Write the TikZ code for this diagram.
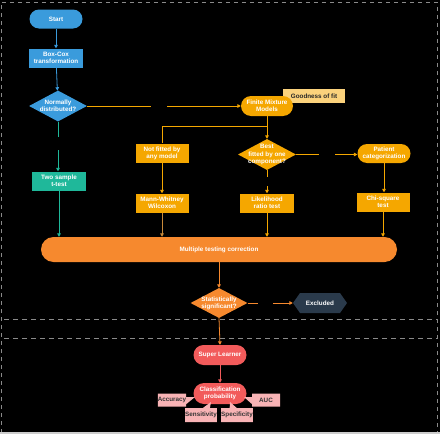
\documentclass[tikz,border=0pt]{standalone}
\usepackage{fontspec}
\setmainfont{Liberation Sans}
\usetikzlibrary{shapes.geometric,shapes.misc,shapes.symbols,shapes.callouts,arrows.meta}
\definecolor{cblue}{HTML}{3A9BDC}
\definecolor{cteal}{HTML}{1FB89A}
\definecolor{cyel}{HTML}{F5A700}
\definecolor{corg}{HTML}{F6892E}
\definecolor{cred}{HTML}{F25B5B}
\definecolor{cpink}{HTML}{F8B3B5}
\definecolor{cgood}{HTML}{FBD27C}
\definecolor{cnavy}{HTML}{2A3A4B}
\definecolor{cgray}{HTML}{8A8A8A}
\definecolor{cbrown}{HTML}{C98A3A}
\tikzset{
  every node/.style={font=\fontsize{6.3}{7.2}\selectfont\bfseries, align=center, inner sep=0pt},
  pill/.style={rectangle, rounded corners=9.5pt, minimum width=53pt, minimum height=19pt, text=white},
  boxn/.style={rectangle, minimum width=54pt, minimum height=19pt, text=white},
  dia/.style={diamond, minimum width=58pt, minimum height=31pt, text=white},
  tag/.style={rectangle callout, fill=cpink, text=black!80, minimum width=28pt, minimum height=13pt},
  arr/.style={line width=0.8pt, -{Triangle[width=3.6pt,length=3.4pt]}},
  plain/.style={line width=0.8pt},
  gaph/.style={fill=black, minimum width=16pt, minimum height=4pt},
  gapv/.style={fill=black, minimum width=4pt, minimum height=12pt},
}
\begin{document}
\begin{tikzpicture}[x=1pt,y=-1pt]
\fill[black] (0,0) rectangle (440,434);
\useasboundingbox (0,0) rectangle (440,434);
% border
\draw[cgray, dashed, line width=0.6pt, dash pattern=on 4pt off 4pt] (1,433) -- (1,2) -- (437,2) -- (437,433);
\draw[black!20, line width=1.5pt] (0,433) -- (440,433);
\draw[cgray, dashed, line width=0.6pt, dash pattern=on 5pt off 4pt] (4,319) -- (437,319);
\draw[cgray, dashed, line width=0.6pt, dash pattern=on 5pt off 4pt] (4,338) -- (437,338);

% nodes
\node[pill, fill=cblue] (start) at (56,19) {Start};
\node[boxn, fill=cblue] (boxcox) at (56,58) {Box-Cox\\transformation};
\node[dia, fill=cblue, label={[text=white, align=center]center:Normally\\distributed?}] (normal) at (58,106) {};
\node[boxn, fill=cteal] (ttest) at (59,181) {Two sample\\t-test};

\node[rectangle, fill=cgood, text=black!85, minimum width=62pt, minimum height=14pt] (good) at (314,96) {Goodness of fit};
\node[pill, fill=cyel, minimum width=52pt, minimum height=20pt, rounded corners=10pt] (fmm) at (267,106) {Finite Mixture\\Models};
\node[dia, fill=cyel, minimum height=31pt, label={[text=white, align=center]center:Best\\fitted by one\\component?}] (best) at (267,154.5) {};
\node[boxn, fill=cyel, minimum width=53pt] (notfit) at (162,153) {Not fitted by\\any model};
\node[boxn, fill=cyel, minimum width=53pt] (mw) at (162,203) {Mann-Whitney\\Wilcoxon};
\node[pill, fill=cyel] (patient) at (384,153.5) {Patient\\categorization};
\node[boxn, fill=cyel] (lrt) at (267,203) {Likelihood\\ratio test};
\node[boxn, fill=cyel, minimum width=53pt] (chi) at (383,202) {Chi-square\\test};

\node[rectangle, rounded corners=12.5pt, fill=corg, text=white, minimum width=356pt, minimum height=25pt] (mtc) at (219,249.5) {Multiple testing correction};
\node[dia, fill=corg, minimum width=57pt, minimum height=30pt, label={[text=white, align=center]center:Statistically\\significant?}] (stat) at (219,303) {};
\node[signal, signal to=west and east, signal pointer angle=110, fill=cnavy, text=white, minimum width=54pt, minimum height=20pt] (excl) at (320,303) {Excluded};

\node[pill, fill=cred, minimum height=20pt, rounded corners=10pt] (sl) at (220,355) {Super Learner};
\node[pill, fill=cred, minimum height=21pt, rounded corners=10.5pt] (cp) at (220,393.5) {Classification\\probability};
\node[tag, minimum width=27pt, callout absolute pointer={(195,397)}] (acc) at (172,400) {Accuracy};
\node[tag, callout absolute pointer={(244,397)}] (auc) at (266,400) {AUC};
\node[tag, minimum width=30pt, minimum height=14pt, callout absolute pointer={(211,402)}] (sens) at (201,415) {Sensitivity};
\node[tag, minimum width=30pt, minimum height=14pt, callout absolute pointer={(230,402)}] (spec) at (237,415) {Specificity};

% connectors
\draw[arr, cblue] (start) -- (boxcox);
\draw[arr, cblue] (boxcox) -- (normal);
\draw[arr, cteal] (normal.south) -- node[gapv, pos=0.44, minimum height=13pt]{} (normal.south |- ttest.north);
\draw[arr, cteal] (ttest.south) -- (ttest.south |- mtc.north);
\draw[arr, cyel] (normal.east) -- node[gaph, pos=0.47]{} (normal.east -| fmm.west);
\draw[arr, cyel] (fmm.south) -- (best.north);
\coordinate (br) at (267,126);
\draw[plain, cyel] (br) -| (notfit.north);
\draw[arr, cyel] (notfit) -- (mw);
\draw[arr, cbrown] (mw.south) -- (mw.south |- mtc.north);
\draw[arr, cyel] (best.east) -- node[gaph, pos=0.51]{} (best.east -| patient.west);
\draw[arr, cyel] (best.south) -- node[gapv, pos=0.5, minimum height=9pt]{} (lrt.north);
\draw[arr, cyel] (lrt.south) -- (lrt.south |- mtc.north);
\draw[arr, cyel] (patient.south) -- (patient.south |- chi.north);
\draw[arr, cyel] (chi.south) -- (chi.south |- mtc.north);
\draw[arr, corg] (mtc.south) -- (stat.north);
\draw[arr, corg] (stat.east) -- node[gaph, pos=0.39, minimum width=15pt]{} (excl.west);
\draw[arr, corg] (stat.south) -- (sl.north);
\draw[arr, cred] (sl) -- (cp);
\end{tikzpicture}
\end{document}
